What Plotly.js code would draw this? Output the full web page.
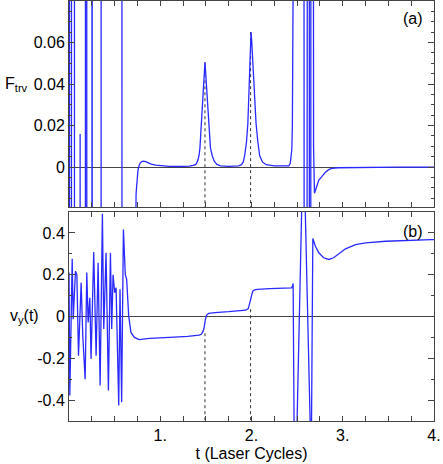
<!DOCTYPE html>
<html>
<head>
<meta charset="utf-8">
<script src="https://cdn.plot.ly/plotly-3.0.1.min.js"></script>
<style>
  body { margin: 0; background: #fff; }
  #plot { width: 443px; height: 464px; }
</style>
</head>
<body>
<div id="plot"></div>
<script>
// panel (a): F_trv against t (laser cycles)
var topT = [0, 0.003, 0.007, 0.025, 0.029, 0.058, 0.062, 0.12, 0.122, 0.124,
  0.178, 0.182, 0.193, 0.197, 0.25, 0.253, 0.256, 0.35, 0.354,
  0.576, 0.579, 0.582, 0.585, 0.72, 0.727, 0.735, 0.741, 0.748, 0.756, 0.766,
  0.778, 0.795, 0.814, 0.84, 0.87, 0.9, 0.95, 1.0, 1.1, 1.2, 1.3,
  1.32, 1.36, 1.39, 1.41, 1.425, 1.435, 1.445, 1.46, 1.47, 1.478, 1.485, 1.49,
  1.495, 1.502, 1.51, 1.52, 1.535, 1.55, 1.57, 1.59, 1.62, 1.66, 1.75,
  1.82, 1.86, 1.89, 1.91, 1.925, 1.935, 1.945, 1.96, 1.97, 1.978, 1.985, 1.99,
  1.995, 2.002, 2.01, 2.02, 2.035, 2.05, 2.07, 2.09, 2.12, 2.16, 2.25, 2.35,
  2.4, 2.41, 2.425, 2.435, 2.442, 2.448, 2.562, 2.566, 2.587, 2.591, 2.624, 2.628,
  2.64, 2.644, 2.656, 2.668, 2.68, 2.69, 2.7, 2.72, 2.738, 2.77, 2.81, 2.85,
  2.883, 2.95, 3.2, 3.6, 4.0];
var topF = [1, 1, -1, -1, 1, 1, -1, -0.5, 0.016, -0.5,
  -1, 1, 1, -1, -1, 1, -1, -1, 1,
  1, -1, 1, -1, -0.1, -0.019, -0.013, -0.0094, -0.005, -0.0014, 0.0005,
  0.0018, 0.0026, 0.0029, 0.0026, 0.002, 0.0015, 0.001, 0.0007, 0.0004, 0.0003, 0.0004,
  0.0005, 0.0009, 0.0013, 0.003, 0.0055, 0.0093, 0.0163, 0.0264, 0.035, 0.042, 0.0474, 0.0505,
  0.0474, 0.042, 0.035, 0.0264, 0.0163, 0.0093, 0.0055, 0.003, 0.0013, 0.0006, 0.0004,
  0.0004, 0.0006, 0.0012, 0.0025, 0.0055, 0.009, 0.012, 0.021, 0.034, 0.045, 0.054, 0.061, 0.065,
  0.061, 0.054, 0.045, 0.034, 0.021, 0.012, 0.0055, 0.0025, 0.0012, 0.0006, 0.0004, 0.0003,
  0.0006, 0.0018, 0.0045, 0.0086, 0.02, 1, 1, -1, -1, 1, 1, -1,
  -1, 1, 1, 0.01, -0.0126, -0.011, -0.0085, -0.0062, -0.0046, -0.0025, -0.0011, -0.0006,
  -0.0003, -0.0001, 0, 0, 0];

// panel (b): v_y(t)
var botT = [0, 0.009, 0.035, 0.046, 0.071, 0.086, 0.104, 0.133, 0.151, 0.177,
  0.195, 0.21, 0.228, 0.242, 0.271, 0.297, 0.319, 0.341, 0.366, 0.381,
  0.406, 0.432, 0.454, 0.468, 0.483, 0.501, 0.516, 0.545, 0.559, 0.577,
  0.596, 0.617, 0.632, 0.654, 0.679, 0.716, 0.77, 0.8, 0.88, 1.0, 1.135,
  1.3, 1.426, 1.45, 1.47, 1.481, 1.495, 1.51, 1.53, 1.6, 1.75, 1.9, 1.937,
  1.965, 1.978, 1.991, 2.005, 2.016, 2.035, 2.063, 2.2, 2.35, 2.44, 2.452,
  2.456, 2.468, 2.49, 2.497, 2.552, 2.57, 2.587, 2.645, 2.652, 2.658, 2.672,
  2.7, 2.738, 2.79, 2.847, 2.9, 2.956, 3.03, 3.14, 3.25, 3.47, 3.69, 3.97, 4.0];
var botV = [0.21, -0.378, 0.276, -0.013, 0.217, 0.2, -0.188, 0.162, -0.092, -0.30,
  0.21, -0.029, 0.09, -0.203, 0.308, -0.188, 0.257, -0.33, 0.492, -0.06,
  0.305, -0.354, 0.305, -0.06, 0.2, 0.114, 0.138, -0.426, 0.13, -0.41,
  0.416, 0.2, 0.178, 0.003, -0.076, -0.1, -0.111, -0.109, -0.105, -0.102, -0.1,
  -0.095, -0.089, -0.085, -0.07, -0.052, -0.013, 0.008, 0.015, 0.019, 0.023, 0.027, 0.03,
  0.038, 0.055, 0.082, 0.108, 0.122, 0.128, 0.13, 0.133, 0.135, 0.137, 0.15,
  0.158, -0.6, -0.7, -0.55, 0.55, 0.7, 0.55, -0.55, -0.6, -0.5, 0.373,
  0.336, 0.305, 0.281, 0.273, 0.281, 0.3, 0.324, 0.344, 0.352, 0.36, 0.365, 0.368, 0.368];

// dotted markers at the two resonances
var markT = [1.49, 1.99];
var markTopF = [0.0505, 0.065];
var markBotV = [-0.08, 0.035];

var topRange = [-0.0192, 0.08];
var botRange = [-0.5, 0.5];

function dropLines(xs, ys, floor) {
  var x = [], y = [];
  for (var i = 0; i < xs.length; i++) {
    x.push(xs[i], xs[i], null);
    y.push(ys[i], floor, null);
  }
  return {x: x, y: y};
}

var dTop = dropLines(markT, markTopF, topRange[0]);
var dBot = dropLines(markT, markBotV, botRange[0]);

var blue = '#2a2aff';
var data = [
  {x: dTop.x, y: dTop.y, xaxis: 'x', yaxis: 'y', mode: 'lines',
   line: {color: '#333', width: 1, dash: 'dot'}, hoverinfo: 'skip'},
  {x: dBot.x, y: dBot.y, xaxis: 'x2', yaxis: 'y2', mode: 'lines',
   line: {color: '#333', width: 1, dash: 'dot'}, hoverinfo: 'skip'},
  {x: topT, y: topF, xaxis: 'x', yaxis: 'y', mode: 'lines',
   line: {color: blue, width: 1.3}},
  {x: botT, y: botV, xaxis: 'x2', yaxis: 'y2', mode: 'lines',
   line: {color: blue, width: 1.3}}
];

var frame = '#444';
var fnt = {family: 'Liberation Sans, Arial, sans-serif', size: 16, color: '#000'};

var xcommon = {
  range: [0, 4], showgrid: false, zeroline: false,
  showline: true, mirror: 'ticks', linecolor: frame, linewidth: 1,
  ticks: 'inside', ticklen: 5, tickcolor: frame,
  tickvals: [1, 2, 3, 4], ticktext: ['1.', '2.', '3.', '4.'],
  minor: {dtick: 0.25, ticklen: 5, ticks: 'inside', tickcolor: frame}
};

var layout = {
  width: 443, height: 464,
  margin: {l: 69, r: 9, t: 1, b: 43},
  paper_bgcolor: '#fff', plot_bgcolor: '#fff',
  showlegend: false,
  font: fnt,
  xaxis: Object.assign({}, xcommon, {domain: [0, 1], anchor: 'y', showticklabels: false}),
  xaxis2: Object.assign({}, xcommon, {domain: [0, 1], anchor: 'y2',
    title: {text: 't (Laser Cycles)', font: fnt, standoff: 4}}),
  yaxis: {
    domain: [0.5095, 1], range: topRange, showgrid: false,
    zeroline: true, zerolinecolor: frame, zerolinewidth: 1,
    showline: true, mirror: 'ticks', linecolor: frame,
    ticks: 'inside', ticklen: 6, tickcolor: frame,
    tickvals: [0, 0.02, 0.04, 0.06], ticktext: ['0', '0.02', '0.04', '0.06'],
    minor: {dtick: 0.005, ticklen: 3, ticks: 'inside', tickcolor: frame}
  },
  yaxis2: {
    domain: [0, 0.4976], range: botRange, showgrid: false,
    zeroline: true, zerolinecolor: frame, zerolinewidth: 1,
    showline: true, mirror: 'ticks', linecolor: frame,
    ticks: 'inside', ticklen: 6, tickcolor: frame,
    tickvals: [-0.4, -0.2, 0, 0.2, 0.4], ticktext: ['-0.4', '-0.2', '0', '0.2', '0.4'],
    minor: {dtick: 0.1, ticklen: 3, ticks: 'inside', tickcolor: frame}
  },
  annotations: [
    {text: 'F<sub>trv</sub>', xref: 'paper', yref: 'y', x: -0.181, y: 0.04,
     xanchor: 'left', yanchor: 'middle', showarrow: false, font: fnt},
    {text: 'v<sub>y</sub>(t)', xref: 'paper', yref: 'y2', x: -0.167, y: 0,
     xanchor: 'left', yanchor: 'middle', showarrow: false, font: fnt},
    {text: '(a)', xref: 'paper', yref: 'y', x: 0.975, y: 0.0715,
     xanchor: 'right', yanchor: 'middle', showarrow: false, font: fnt},
    {text: '(b)', xref: 'paper', yref: 'y2', x: 0.975, y: 0.406,
     xanchor: 'right', yanchor: 'middle', showarrow: false, font: fnt}
  ]
};

Plotly.newPlot('plot', data, layout, {staticPlot: true});
</script>
</body>
</html>
